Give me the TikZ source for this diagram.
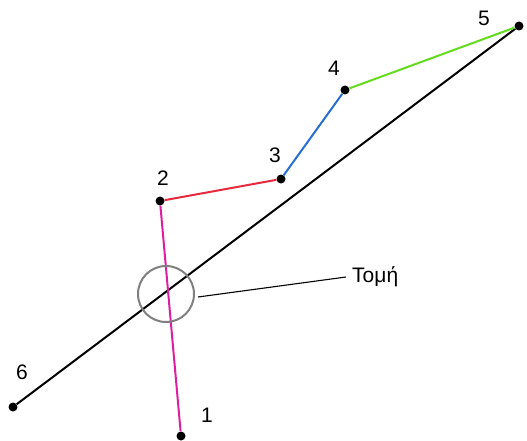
\documentclass[tikz,border=0pt]{standalone}
\usepackage{fontspec}
\setmainfont{Liberation Sans}
\definecolor{cmag}{RGB}{220,30,160}
\definecolor{cred}{RGB}{232,40,60}
\definecolor{cblue}{RGB}{40,110,210}
\definecolor{cgreen}{RGB}{100,220,30}
\begin{document}
\begin{tikzpicture}[x=1pt,y=-1pt,
  pt/.style={circle,fill=black,inner sep=0pt,minimum size=9pt},
  lbl/.style={font=\fontsize{21}{24}\selectfont,inner sep=0pt},
  seg/.style={line width=2pt}]
\useasboundingbox (0,0) rectangle (527,441);
\node[pt] (p1) at (181,436) {};
\node[pt] (p2) at (160,201) {};
\node[pt] (p3) at (281,179) {};
\node[pt] (p4) at (345,90) {};
\node[pt] (p5) at (519,26) {};
\node[pt] (p6) at (13,407) {};
\draw[seg,black] (p6) -- (p5);
\draw[seg,cmag] (p1) -- (p2);
\draw[seg,cred] (p2) -- (p3);
\draw[seg,cblue] (p3) -- (p4);
\draw[seg,cgreen] (p4) -- (p5);
\node[circle,draw=gray,line width=2pt,minimum size=56pt,inner sep=0pt] (c) at (166,294) {};
\node[lbl,anchor=west] (t) at (352,277) {Τομή};
\draw[line width=1.1pt] (198,297) -- ([xshift=-6pt]t.west);
\node[lbl] (l1) at (207,415) {1};
\node[lbl] (l2) at (163,178) {2};
\node[lbl] (l3) at (275,155) {3};
\node[lbl] (l4) at (334,68) {4};
\node[lbl] (l5) at (484,18) {5};
\node[lbl] (l6) at (22,372) {6};
\end{tikzpicture}
\end{document}
